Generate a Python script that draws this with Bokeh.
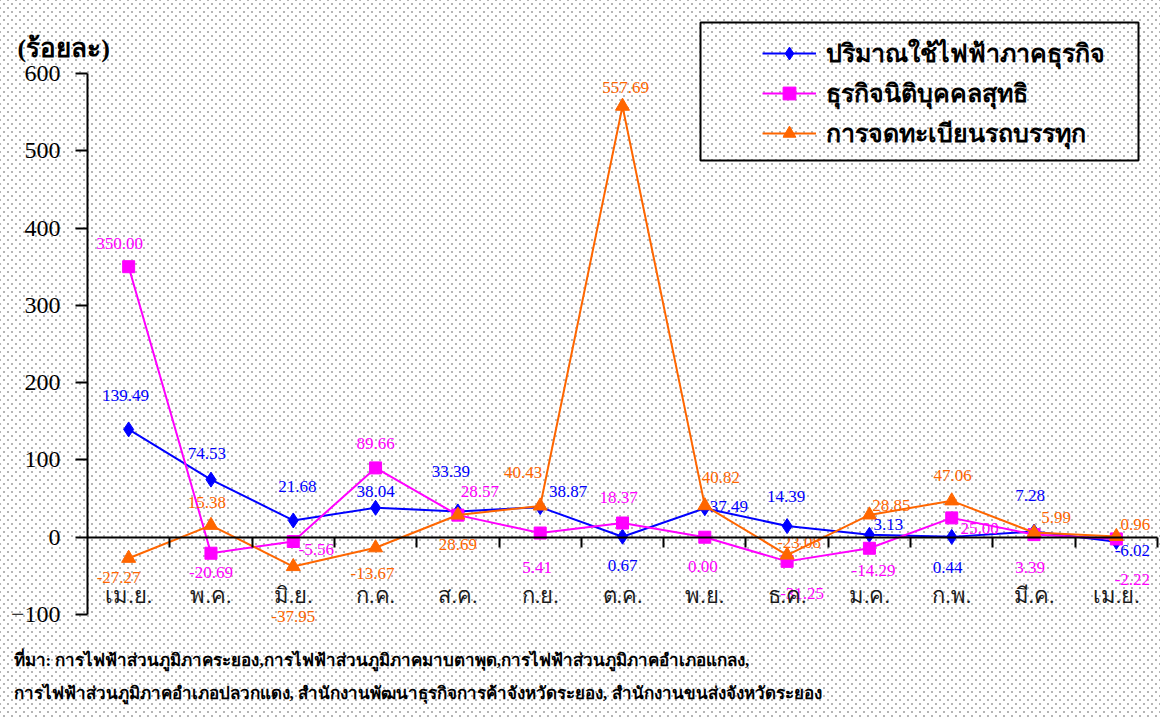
from bokeh.plotting import figure
from bokeh.models import (ColumnDataSource, FixedTicker, Range1d, Label,
                          BoxAnnotation, Legend, LegendItem)
from bokeh.core.properties import value
from bokeh.embed import file_html
from bokeh.resources import INLINE

# ---------------- data ----------------
months = ["เม.ย.", "พ.ค.", "มิ.ย.", "ก.ค.", "ส.ค.", "ก.ย.", "ต.ค.",
          "พ.ย.", "ธ.ค.", "ม.ค.", "ก.พ.", "มี.ค.", "เม.ย."]
electricity = [139.49, 74.53, 21.68, 38.04, 33.39, 38.87, 0.67, 37.49, 14.39, 3.13, 0.44, 7.28, -6.02]
juristic = [350.00, -20.69, -5.56, 89.66, 28.57, 5.41, 18.37, 0.00, -31.25, -14.29, 25.00, 3.39, -2.22]
trucks = [-27.27, 15.38, -37.95, -13.67, 28.69, 40.43, 557.69, 40.82, -23.08, 28.85, 47.06, 5.99, 0.96]
series_names = ["ปริมาณใช้ไฟฟ้าภาคธุรกิจ", "ธุรกิจนิติบุคคลสุทธิ", "การจดทะเบียนรถบรรทุก"]
y_ticks = [-100, 0, 100, 200, 300, 400, 500, 600]
y_title = "(ร้อยละ)"
source_line1 = "ที่มา: การไฟฟ้าส่วนภูมิภาคระยอง,การไฟฟ้าส่วนภูมิภาคมาบตาพุด,การไฟฟ้าส่วนภูมิภาคอำเภอแกลง,"
source_line2 = "การไฟฟ้าส่วนภูมิภาคอำเภอปลวกแดง, สำนักงานพัฒนาธุรกิจการค้าจังหวัดระยอง, สำนักงานขนส่งจังหวัดระยอง"

# ---------------- label placement (screen px offsets, layout only) ----------------
off_blue = [(-3, -34), (-4, -26), (4, -34), (0, -16), (-7, -40), (28, -16), (0, 29),
            (24, -2), (-1, -30), (19, -10), (-4, 31), (-4, -36), (16, 9)]
off_pink = [(-9, -23), (0, 19), (23, 8), (0, -24), (22, -24), (-3, 34), (-4, -26),
            (-2, 29), (15, 32), (4, 22), (28, 11), (-4, 33), (16, 41)]
off_orange = [(-10, 19), (-4, -23), (0, 50), (-3, 26), (0, 29), (-17, -33), (3, -19),
              (16, -28), (12, -13), (22, -9), (1, -25), (22, -15), (19, -12)]

BLUE = "#0000FF"
PINK = "#FF00FF"
ORANGE = "#FF6600"
NUM_FONT = "Liberation Serif"

W, H = 1160, 719
# pixel layout of the plot area (frame spans the whole canvas; axes are pinned)
AX_L, AX_R = 87, 1157      # left/right pixel of category span
AX_TOP, AX_BOT = 73, 614   # pixel of y=600 and y=-100
n = len(months)
x = list(range(n))
kx = (AX_R - AX_L) / n
ky = (AX_BOT - AX_TOP) / 700.0
y_zero_px = AX_BOT - 100 * ky

x_range = Range1d(-0.5 - AX_L / kx, -0.5 + (W - AX_L) / kx)
y_range = Range1d(-(H - y_zero_px) / ky, y_zero_px / ky)

p = figure(width=W, height=H, output_backend="svg", toolbar_location=None,
           x_range=x_range, y_range=y_range, min_border=0,
           min_border_left=0, min_border_right=0, min_border_top=0, min_border_bottom=0)
p.background_fill_color = None
p.border_fill_color = None
p.outline_line_color = None
p.xgrid.visible = False
p.ygrid.visible = False
p.styles = {
    "background-color": "white",
    "background-image": "radial-gradient(circle, #b5b5b5 0.9px, rgba(255,255,255,0) 1.5px),"
                        "radial-gradient(circle, #b5b5b5 0.9px, rgba(255,255,255,0) 1.5px)",
    "background-size": "8px 8px, 8px 8px",
    "background-position": "0px 0px, 4px 4px",
}

# y axis pinned at the left edge of the category span
ya = p.yaxis[0]
ya.fixed_location = -0.5
ya.bounds = (-100, 600)
ya.ticker = FixedTicker(ticks=y_ticks)
ya.axis_line_width = 2
ya.axis_line_color = "black"
ya.major_tick_line_width = 2
ya.major_tick_out = 12
ya.major_tick_in = 0
ya.minor_tick_line_color = None
ya.major_label_standoff = 15
ya.major_label_text_font = NUM_FONT
ya.major_label_text_font_size = "24px"
ya.major_label_text_color = "black"

# x axis pinned at zero; month labels at centres, tick marks at boundaries
xa = p.xaxis[0]
xa.fixed_location = 0
xa.bounds = (-0.5, n - 0.5)
xa.ticker = FixedTicker(ticks=x, minor_ticks=[i + 0.5 for i in x])
xa.major_label_overrides = {i: m for i, m in enumerate(months)}
xa.axis_line_width = 2
xa.axis_line_color = "black"
xa.major_tick_line_color = None
xa.major_tick_out = 10
xa.major_tick_in = 0
xa.minor_tick_line_color = "black"
xa.minor_tick_line_width = 2
xa.minor_tick_out = 10
xa.minor_tick_in = 0
xa.major_label_standoff = 36
xa.major_label_text_font = NUM_FONT
xa.major_label_text_font_size = "22px"
xa.major_label_text_color = "#1a1a1a"

# series
renderers = []
for vals, col, marker, size, offs in [
        (electricity, BLUE, "diamond", 15, off_blue),
        (juristic, PINK, "square", 12, off_pink),
        (trucks, ORANGE, "triangle", 14, off_orange)]:
    src = ColumnDataSource(dict(
        x=x, y=vals, lab=[f"{v:.2f}" for v in vals],
        dx=[o[0] for o in offs], dy=[o[1] for o in offs]))
    lr = p.line("x", "y", source=src, line_color=col, line_width=2)
    sr = p.scatter("x", "y", source=src, marker=marker, size=size,
                   fill_color=col, line_color=col)
    renderers.append((lr, sr))
    p.text("x", "y", text="lab", source=src, x_offset="dx", y_offset="dy",
           text_align="center", text_baseline="middle",
           text_font=value(NUM_FONT), text_font_size="17px", text_color=col)

# legend (box border drawn separately so the inner left gap matches)
legend = Legend(items=[LegendItem(label=nm, renderers=list(r)) for nm, r in zip(series_names, renderers)],
                location=(752, H - 163),
                padding=10, spacing=0, glyph_width=54, glyph_height=32,
                label_standoff=10, label_height=40,
                label_text_font=NUM_FONT, label_text_font_size="25px",
                label_text_font_style="bold", label_text_color="black",
                label_text_baseline="middle",
                background_fill_alpha=0, border_line_alpha=0)
p.add_layout(legend, "center")

box = BoxAnnotation(left=700, right=1138, bottom=H - 160, top=H - 22,
                    left_units="screen", right_units="screen",
                    top_units="screen", bottom_units="screen",
                    fill_alpha=0, line_color="black", line_alpha=1.0, line_width=2)
p.add_layout(box)

# titles / notes
p.add_layout(Label(x=17, y=H - 48, x_units="screen", y_units="screen",
                   text=y_title, text_font=NUM_FONT, text_font_size="26px",
                   text_font_style="bold", text_baseline="middle", text_color="black"))
p.add_layout(Label(x=13, y=H - 660, x_units="screen", y_units="screen",
                   text=source_line1, text_font=NUM_FONT, text_font_size="17px",
                   text_font_style="bold", text_baseline="middle", text_color="black"))
p.add_layout(Label(x=13, y=H - 693, x_units="screen", y_units="screen",
                   text=source_line2, text_font=NUM_FONT, text_font_size="17px",
                   text_font_style="bold", text_baseline="middle", text_color="black"))

open("out.html", "w").write(file_html(p, INLINE))
